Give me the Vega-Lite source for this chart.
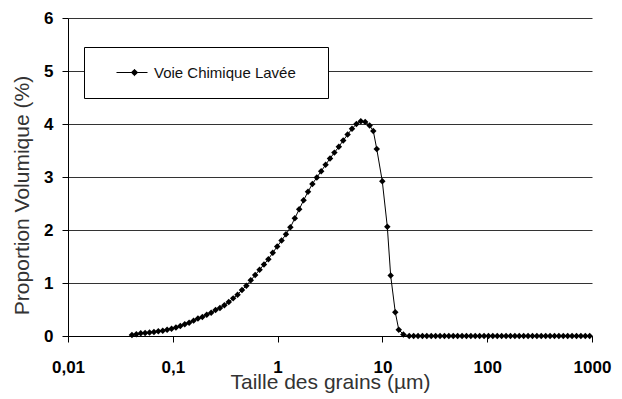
{
  "$schema": "https://vega.github.io/schema/vega-lite/v6.json",
  "width": 524,
  "height": 318,
  "autosize": {"type": "none"},
  "padding": {"left": 68, "top": 18, "right": 30, "bottom": 63},
  "background": "white",
  "config": {
    "view": {"stroke": null},
    "font": "Liberation Sans"
  },
  "data": {
    "values": [
      {"x": 0.04074, "y": 0.02}, {"x": 0.04487, "y": 0.035}, {"x": 0.04943, "y": 0.05}, {"x": 0.05445, "y": 0.057},
      {"x": 0.05998, "y": 0.065}, {"x": 0.06607, "y": 0.075}, {"x": 0.07278, "y": 0.088}, {"x": 0.08017, "y": 0.10},
      {"x": 0.08831, "y": 0.12}, {"x": 0.09727, "y": 0.135}, {"x": 0.1072, "y": 0.16}, {"x": 0.1180, "y": 0.19},
      {"x": 0.1300, "y": 0.22}, {"x": 0.1432, "y": 0.25}, {"x": 0.1578, "y": 0.29}, {"x": 0.1738, "y": 0.33},
      {"x": 0.1914, "y": 0.36}, {"x": 0.2109, "y": 0.40}, {"x": 0.2323, "y": 0.44}, {"x": 0.2559, "y": 0.49},
      {"x": 0.2818, "y": 0.53}, {"x": 0.3105, "y": 0.58}, {"x": 0.3420, "y": 0.64}, {"x": 0.3767, "y": 0.71},
      {"x": 0.4150, "y": 0.78}, {"x": 0.4571, "y": 0.87}, {"x": 0.5035, "y": 0.95}, {"x": 0.5546, "y": 1.05},
      {"x": 0.6109, "y": 1.15}, {"x": 0.6730, "y": 1.25}, {"x": 0.7413, "y": 1.35}, {"x": 0.8166, "y": 1.45},
      {"x": 0.8995, "y": 1.57}, {"x": 0.9908, "y": 1.69}, {"x": 1.091, "y": 1.80}, {"x": 1.202, "y": 1.92},
      {"x": 1.324, "y": 2.05}, {"x": 1.459, "y": 2.22}, {"x": 1.607, "y": 2.39}, {"x": 1.770, "y": 2.56},
      {"x": 1.950, "y": 2.72}, {"x": 2.148, "y": 2.87}, {"x": 2.366, "y": 2.99}, {"x": 2.606, "y": 3.11},
      {"x": 2.871, "y": 3.23}, {"x": 3.162, "y": 3.35}, {"x": 3.483, "y": 3.46}, {"x": 3.837, "y": 3.57},
      {"x": 4.227, "y": 3.69}, {"x": 4.656, "y": 3.80}, {"x": 5.129, "y": 3.91}, {"x": 5.649, "y": 4.00},
      {"x": 6.223, "y": 4.05}, {"x": 6.855, "y": 4.04}, {"x": 7.551, "y": 3.97}, {"x": 8.185, "y": 3.87},
      {"x": 8.831, "y": 3.53}, {"x": 9.977, "y": 2.92}, {"x": 11.14, "y": 2.06}, {"x": 11.99, "y": 1.14},
      {"x": 13.27, "y": 0.45}, {"x": 14.32, "y": 0.12}, {"x": 15.85, "y": 0.03}, {"x": 18.03, "y": 0},
      {"x": 19.86, "y": 0}, {"x": 21.88, "y": 0}, {"x": 24.10, "y": 0}, {"x": 26.55, "y": 0},
      {"x": 29.24, "y": 0}, {"x": 32.21, "y": 0}, {"x": 35.48, "y": 0}, {"x": 39.08, "y": 0},
      {"x": 43.05, "y": 0}, {"x": 47.42, "y": 0}, {"x": 52.24, "y": 0}, {"x": 57.54, "y": 0},
      {"x": 63.39, "y": 0}, {"x": 69.82, "y": 0}, {"x": 76.91, "y": 0}, {"x": 84.72, "y": 0},
      {"x": 93.33, "y": 0}, {"x": 102.8, "y": 0}, {"x": 113.2, "y": 0}, {"x": 124.7, "y": 0},
      {"x": 137.4, "y": 0}, {"x": 151.4, "y": 0}, {"x": 166.7, "y": 0}, {"x": 183.7, "y": 0},
      {"x": 202.3, "y": 0}, {"x": 222.8, "y": 0}, {"x": 245.5, "y": 0}, {"x": 270.4, "y": 0},
      {"x": 297.8, "y": 0}, {"x": 328.1, "y": 0}, {"x": 361.4, "y": 0}, {"x": 398.1, "y": 0},
      {"x": 438.5, "y": 0}, {"x": 483.1, "y": 0}, {"x": 532.1, "y": 0}, {"x": 586.1, "y": 0},
      {"x": 645.7, "y": 0}, {"x": 711.2, "y": 0}, {"x": 783.4, "y": 0}, {"x": 863.0, "y": 0},
      {"x": 950.6, "y": 0}
    ]
  },
  "mark": {
    "type": "line",
    "strokeWidth": 1,
    "point": {"shape": "diamond", "size": 42, "filled": true, "color": "black"}
  },
  "encoding": {
    "x": {
      "field": "x",
      "type": "quantitative",
      "scale": {"type": "log", "domain": [0.01, 1000], "nice": false},
      "axis": {
        "values": [0.01, 0.1, 1, 10, 100, 1000],
        "format": "~g",
        "labelExpr": "replace(datum.label, '.', ',')",
        "grid": false,
        "domainColor": "black",
        "tickColor": "black",
        "tickSize": 6,
        "labelFont": "Liberation Sans",
        "labelFontSize": 17,
        "labelFontWeight": "bold",
        "labelColor": "black",
        "labelPadding": 17,
        "labelFlush": false,
        "title": "Taille des grains (µm)",
        "titleFont": "Liberation Sans",
        "titleFontSize": 21,
        "titleFontWeight": "normal",
        "titleColor": "#333333",
        "titleBaseline": "alphabetic",
        "titleY": 52,
        "titleX": 262
      }
    },
    "y": {
      "field": "y",
      "type": "quantitative",
      "scale": {"domain": [0, 6], "nice": false},
      "axis": {
        "values": [0, 1, 2, 3, 4, 5, 6],
        "grid": true,
        "gridColor": "#333333",
        "gridWidth": 1,
        "gridOpacity": 1,
        "domainColor": "black",
        "tickColor": "black",
        "tickSize": 6,
        "labelFont": "Liberation Sans",
        "labelFontSize": 17,
        "labelFontWeight": "bold",
        "labelColor": "black",
        "labelPadding": 9,
        "title": "Proportion Volumique (%)",
        "titleFont": "Liberation Sans",
        "titleFontSize": 21,
        "titleFontWeight": "normal",
        "titleColor": "#333333",
        "titleAngle": -90,
        "titleBaseline": "middle",
        "titleX": -46,
        "titleY": 177
      }
    },
    "color": {
      "datum": "Voie Chimique Lavée",
      "scale": {"range": ["black"]},
      "legend": {
        "orient": "none",
        "legendX": 16,
        "legendY": 29,
        "title": null,
        "strokeColor": "black",
        "fillColor": "white",
        "padding": 17,
        "symbolType": "M-2.25,0L1.625,0M0,-0.4L0.4,0L0,0.4L-0.4,0ZM21.75,0",
        "symbolSize": 256,
        "symbolOffset": 25,
        "symbolStrokeWidth": 1,
        "labelOffset": 11,
        "labelFont": "Liberation Sans",
        "labelFontSize": 15,
        "labelColor": "#111111",
        "encode": {
          "symbols": {"update": {"fill": {"value": "black"}, "stroke": {"value": "black"}, "strokeWidth": {"value": 1}, "opacity": {"value": 1}}}
        }
      }
    }
  }
}
